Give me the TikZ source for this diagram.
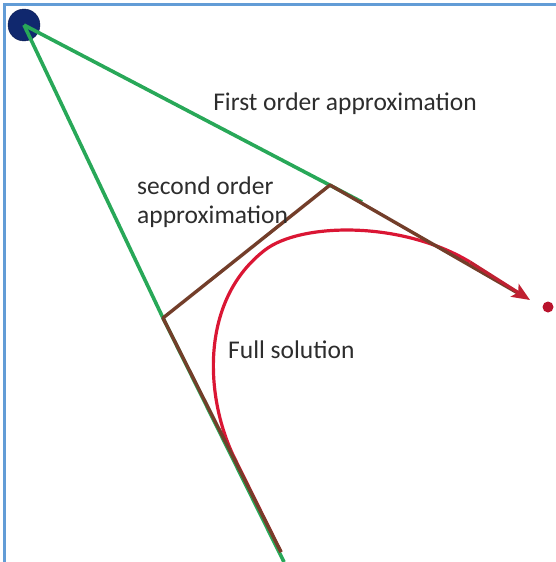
\documentclass[tikz,border=0pt]{standalone}
\usepackage{fontspec}
\setmainfont{Carlito}
\usepackage{tikz}
\usetikzlibrary{positioning, arrows.meta, calc}
\definecolor{OrbNavy}{RGB}{16,40,110}
\definecolor{OrbGreen}{RGB}{40,168,88}
\definecolor{OrbBrown}{RGB}{115,62,42}
\definecolor{OrbRed}{RGB}{218,22,52}
\definecolor{OrbFrame}{RGB}{98,156,214}
\definecolor{OrbText}{RGB}{45,45,45}

\begin{document}
\begin{tikzpicture}[x=1pt, y=-1pt,
            lbl/.style={font=\fontsize{25.5}{29}\selectfont, text=OrbText,
                        align=left, inner sep=0pt},
            first/.style={draw=OrbGreen, line width=3.6pt},
            second/.style={draw=OrbBrown, line width=3.4pt, line join=round},
            full/.style={draw=OrbRed, line width=3.2pt},
            arr/.style={-{Stealth[length=18pt, width=15pt, inset=4pt]}}
          ]
          \useasboundingbox (0,0) rectangle (556,562);
          % frame, only top and left
          \draw[OrbFrame, line width=2.8pt] (4.5,562) -- (4.5,4.5) -- (556,4.5);

          \node[circle, fill=OrbNavy, draw=OrbNavy!70!black, minimum size=32pt,
                inner sep=0pt] (src) at (24,25) {};
          \node[circle, fill=OrbRed!85!black, minimum size=11pt, inner sep=0pt]
                (dst) at (548,307) {};

          \coordinate (kA) at (330,185);
          \coordinate (kB) at (163,318);
          \coordinate (gA) at (362,202);
          \coordinate (gB) at (284,562);
          \coordinate (bB) at (281,552);
          \coordinate (tip) at (530,300);

          % first order
          \draw[first] (src.center) -- (gA);
          \draw[first] (src.center) -- (kB) -- (gB);

          % full solution
          \draw[full] (bB) -- (233,455)
                .. controls (205,395) and (200,300) .. (265,250)
                .. controls (300,223) and (400,220) .. (470,262);

          % second order
          \draw[second] (bB) -- (kB) -- (kA) -- ($(tip)!10pt!(kA)$);
          \draw[full, arr, draw=OrbRed!75!OrbBrown, fill=OrbRed!80!OrbBrown]
                (470,262) -- (tip);

          \node[lbl] (lfirst) at (345,104) {First order approximation};
          \node[lbl, anchor=west] (lsecond) at (137,202) {second order\\approximation};
          \node[lbl, anchor=west] (lfull) at (228,350) {Full solution};
        \end{tikzpicture}
\end{document}
